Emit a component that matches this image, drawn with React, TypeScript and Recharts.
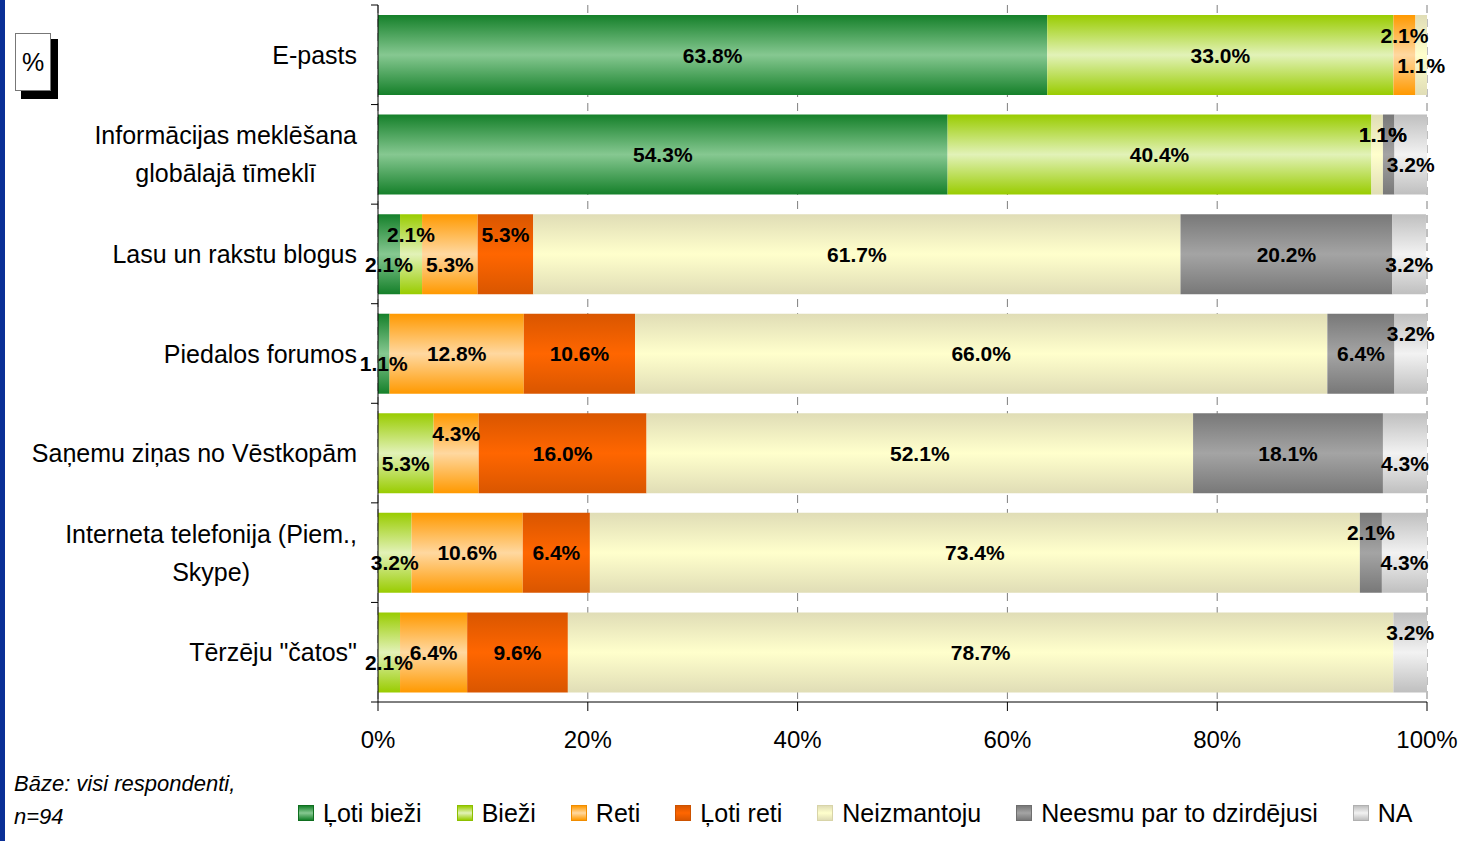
import { BarChart, Bar, XAxis, YAxis, CartesianGrid, LabelList } from 'recharts'

const FONT = '"Liberation Sans", Arial, sans-serif'

// categories (\n marks the line break used in the axis label)
const categories = [
  'E-pasts',
  'Informācijas meklēšana\nglobālajā tīmeklī',
  'Lasu un rakstu blogus',
  'Piedalos forumos',
  'Saņemu ziņas no Vēstkopām',
  'Interneta telefonija (Piem.,\nSkype)',
  'Tērzēju "čatos"'
]

const lotiBiezi = [63.8, 54.3, 2.1, 1.1, 0, 0, 0]
const biezi = [33.0, 40.4, 2.1, 0, 5.3, 3.2, 2.1]
const reti = [2.1, 0, 5.3, 12.8, 4.3, 10.6, 6.4]
const lotiReti = [0, 0, 5.3, 10.6, 16.0, 6.4, 9.6]
const neizmantoju = [1.1, 1.1, 61.7, 66.0, 52.1, 73.4, 78.7]
const neesmu = [0, 1.1, 20.2, 6.4, 18.1, 2.1, 0]
const na = [0, 3.2, 3.2, 3.2, 4.3, 4.3, 3.2]

const xTicks = [0, 20, 40, 60, 80, 100]

const series = [
  { key: 'lotiBiezi', name: 'Ļoti bieži', values: lotiBiezi, edge: '#15802a', mid: '#86c891', border: '#0f6e1f' },
  { key: 'biezi', name: 'Bieži', values: biezi, edge: '#99cc00', mid: '#e2f2b8', border: '#8cbf00' },
  { key: 'reti', name: 'Reti', values: reti, edge: '#ff9900', mid: '#ffd8a0', border: '#f08c00' },
  { key: 'lotiReti', name: 'Ļoti reti', values: lotiReti, edge: '#d95600', mid: '#ff6600', border: '#cc5200' },
  { key: 'neizmantoju', name: 'Neizmantoju', values: neizmantoju, edge: '#e0ddb6', mid: '#ffffcc', border: '#d8d4a8' },
  { key: 'neesmu', name: 'Neesmu par to dzirdējusi', values: neesmu, edge: '#787878', mid: '#a4a4a4', border: '#6e6e6e' },
  { key: 'na', name: 'NA', values: na, edge: '#bfbfbf', mid: '#f2f2f2', border: '#b0b0b0' }
]

const W = 1462
const H = 841
const PLOT_LEFT = 378
const PLOT_TOP = 5
const PLOT_BOTTOM = 702
const BAND = (PLOT_BOTTOM - PLOT_TOP) / categories.length

const chartData = categories.map((name, i) => {
  const row: any = { name }
  series.forEach((s) => {
    row[s.key] = s.values[i]
  })
  return row
})

// narrow segments get their labels pushed up / down alternately,
// two tiny neighbours share one spot on their common edge
const isNarrow = (v: number) => v > 0 && v < 6
const isTiny = (v: number) => v > 0 && v < 1.5
const shifts: number[][] = series.map(() => categories.map(() => 0))
const xAlign: number[][] = series.map(() => categories.map(() => 0))
categories.forEach((_, r) => {
  const first = series.find((s) => s.values[r] > 0)
  let dir = first && isNarrow(first.values[r]) ? 1 : -1
  let prevTiny = -1
  let lastShift = 0
  series.forEach((s, si) => {
    const v = s.values[r]
    if (v <= 0) return
    if (!isNarrow(v)) {
      prevTiny = -1
      return
    }
    let shift
    if (prevTiny >= 0 && isTiny(v)) {
      shift = lastShift
      xAlign[prevTiny][r] = 1
      xAlign[si][r] = -1
    } else {
      shift = dir
      dir = -dir
    }
    shifts[si][r] = shift
    lastShift = shift
    prevTiny = isTiny(v) ? si : -1
  })
})

let measureCtx: CanvasRenderingContext2D | null = null
const textWidth = (t: string, font: string) => {
  if (!measureCtx) measureCtx = document.createElement('canvas').getContext('2d')
  if (!measureCtx) return t.length * 12
  measureCtx.font = font
  return measureCtx.measureText(t).width
}

const CategoryTick = (props: any) => {
  const { y, payload, index } = props
  const lines: string[] = String(payload.value).split('\n')
  const right = PLOT_LEFT - 21
  const maxW = Math.max(...lines.map((l) => textWidth(l, `25px ${FONT}`)))
  const cx = right - maxW / 2
  const lineH = 38
  const y0 = y - ((lines.length - 1) * lineH) / 2
  return (
    <g>
      <line x1={PLOT_LEFT - 7} x2={PLOT_LEFT} y1={y - BAND / 2} y2={y - BAND / 2} stroke="#000" />
      {index === categories.length - 1 && (
        <line x1={PLOT_LEFT - 7} x2={PLOT_LEFT} y1={y + BAND / 2} y2={y + BAND / 2} stroke="#000" />
      )}
      {lines.map((l, i) => (
        <text
          key={i}
          x={lines.length > 1 ? cx : right}
          y={y0 + i * lineH}
          textAnchor={lines.length > 1 ? 'middle' : 'end'}
          dominantBaseline="central"
          fontFamily={FONT}
          fontSize={25}
          fill="#000">
          {l}
        </text>
      ))}
    </g>
  )
}

const makeLabel = (si: number) => (props: any) => {
  const { x, y, width, height, value } = props
  if (!value) return null
  const cy = y + height / 2
  const row = Math.min(categories.length - 1, Math.max(0, Math.floor((cy - PLOT_TOP) / BAND)))
  const s = shifts[si][row]
  const dy = s < 0 ? -20 : s > 0 ? 10 : 0
  const dx = (xAlign[si][row] * width) / 2
  return (
    <text
      x={x + width / 2 + dx}
      y={cy + dy}
      textAnchor="middle"
      dominantBaseline="central"
      fontFamily={FONT}
      fontWeight="bold"
      fontSize={21}
      fill="#000">
      {Number(value).toFixed(1)}%
    </text>
  )
}

export default function App() {
  return (
    <div style={{ position: 'absolute', left: 0, top: 0, width: W, height: H, background: '#fff', overflow: 'hidden', fontFamily: FONT }}>
      <div style={{ position: 'absolute', left: 0, top: 0, width: 5, height: H, background: '#0a2f96' }} />

      {/* % box */}
      <div style={{ position: 'absolute', left: 21, top: 39, width: 37, height: 60, background: '#000' }} />
      <div
        style={{
          position: 'absolute',
          left: 15,
          top: 33,
          width: 34,
          height: 56,
          background: '#fff',
          border: '1px solid #777',
          display: 'flex',
          alignItems: 'center',
          justifyContent: 'center',
          fontSize: 25
        }}>
        %
      </div>

      <div style={{ position: 'absolute', left: 0, top: 0 }}>
        <BarChart
          width={W}
          height={H}
          data={chartData}
          layout="vertical"
          barSize={80}
          margin={{ top: PLOT_TOP, right: W - 1427, bottom: H - PLOT_BOTTOM - 50, left: 0 }}>
          <defs>
            {series.map((s) => (
              <linearGradient key={s.key} id={`g-${s.key}`} x1="0" y1="0" x2="0" y2="1">
                <stop offset="0%" stopColor={s.edge} />
                <stop offset="50%" stopColor={s.mid} />
                <stop offset="100%" stopColor={s.edge} />
              </linearGradient>
            ))}
          </defs>
          <CartesianGrid horizontal={false} stroke="#7f7f7f" strokeDasharray="8 6" />
          <XAxis
            type="number"
            domain={[0, 100]}
            allowDataOverflow
            ticks={xTicks}
            tickFormatter={(v) => `${v}%`}
            height={50}
            tickSize={9}
            tickMargin={20}
            tick={{ fontSize: 24, fill: '#000', fontFamily: FONT }}
            axisLine={{ stroke: '#000' }}
            tickLine={{ stroke: '#000' }}
          />
          <YAxis
            type="category"
            dataKey="name"
            width={PLOT_LEFT}
            interval={0}
            tickLine={false}
            axisLine={{ stroke: '#000' }}
            tick={<CategoryTick />}
          />
          {series.map((s, si) => (
            <Bar
              key={s.key}
              dataKey={s.key}
              name={s.name}
              stackId="a"
              fill={`url(#g-${s.key})`}
              isAnimationActive={false}>
              <LabelList dataKey={s.key} content={makeLabel(si)} />
            </Bar>
          ))}
        </BarChart>
      </div>

      {/* base note */}
      <div style={{ position: 'absolute', left: 14, top: 767, fontSize: 22, fontStyle: 'italic', lineHeight: '33px', color: '#000' }}>
        Bāze: visi respondenti,
        <br />
        n=94
      </div>

      {/* legend */}
      <div style={{ position: 'absolute', left: 298, top: 797, display: 'flex', alignItems: 'center', fontSize: 25, lineHeight: '32px', color: '#000' }}>
        {series.map((s) => (
          <div key={s.key} style={{ display: 'flex', alignItems: 'center', marginRight: 35 }}>
            <div
              style={{
                width: 14,
                height: 14,
                border: `1px solid ${s.border}`,
                background: `linear-gradient(${s.edge}, ${s.mid}, ${s.edge})`,
                marginRight: 9
              }}
            />
            <span>{s.name}</span>
          </div>
        ))}
      </div>
    </div>
  )
}
